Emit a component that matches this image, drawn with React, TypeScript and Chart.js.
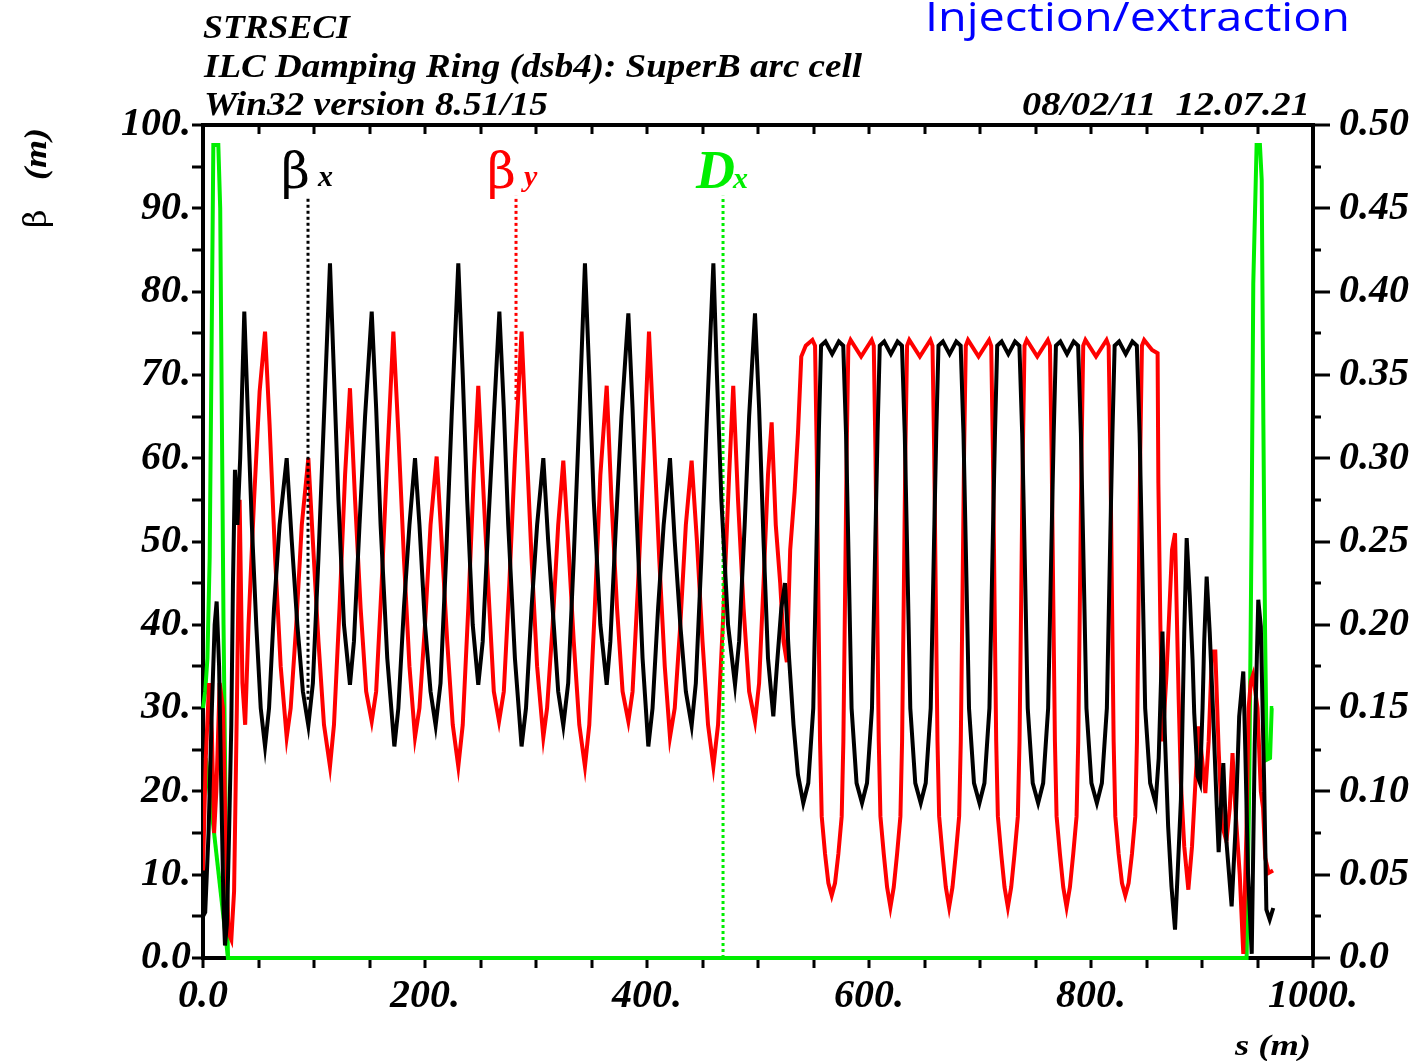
import React, { useEffect, useRef } from 'react';
import { Chart, registerables } from 'chart.js';

Chart.register(...registerables);

// ---------- data (s in m, beta in m, Dx in m) ----------
const BETA_X: [number, number][] = [
  [0, 5], [2, 5.5], [5, 15], [8, 30], [10.5, 40], [12.3, 42.8], [14.5, 35], [16.5, 20], [18.5, 6], [19.8, 1.5],
  [21.5, 4], [23.5, 15], [25.5, 28], [27, 45], [28.8, 58.6], [31, 52], [33.5, 60], [37.2, 77.6], [40.5, 65], [44, 52],
  [48, 40], [52, 30], [55.9, 25.4], [59.5, 30], [64, 42], [69, 52], [75.4, 60], [80, 50], [85, 40], [90, 32],
  [94.9, 27.9], [99, 33], [104, 48], [109, 65], [114.4, 83.4], [118, 70], [122, 55], [127, 40], [132.4, 32.8], [136, 38],
  [141, 52], [146, 65], [152, 77.6], [156, 66], [160, 52], [166, 36], [172.4, 25.4], [176, 30], [181, 42], [186, 52],
  [191, 60], [195, 52], [200, 40], [205, 32], [209.6, 27.9], [214, 33], [219, 48], [224, 65], [230, 83.4], [234, 70],
  [238, 55], [243, 40], [248, 32.8], [252, 38], [257, 52], [262, 65], [267, 77.6], [271, 66], [275, 52], [281, 36],
  [287, 25.4], [291, 30], [296, 42], [301, 52], [306.6, 60], [311, 50], [316, 40], [320, 32], [324.6, 27.9], [329, 33],
  [334, 48], [339, 65], [344.1, 83.4], [348, 70], [352, 55], [358, 40], [363.7, 32.8], [367, 38], [372, 52], [377, 65],
  [383.2, 77.4], [387, 66], [391, 52], [396, 36], [401.2, 25.4], [405, 30], [410, 42], [415, 52], [420.7, 60], [425, 50],
  [430, 40], [435, 32], [440.2, 27.9], [444, 33], [449, 48], [454, 65], [459.8, 83.4], [463, 70], [467, 55], [473, 40],
  [479.3, 32.8], [483, 38], [488, 52], [492, 65], [497.3, 77.4], [501, 66], [505, 50], [509, 36], [513.8, 29], [517, 35],
  [521, 42], [524.3, 45], [528, 36], [532, 28], [536, 22],
  [540.8, 18.6], [545.3, 21], [549.8, 30], [552.8, 50], [554.8, 63], [556.8, 73.5], [560.8, 74], [566.8, 72.5], [572.8, 74], [576.8, 73.5],
  [579.3, 63], [581.3, 50], [584.3, 30], [588.8, 21],
  [593.7, 18.6], [598.2, 21], [602.7, 30], [605.7, 50], [607.7, 63], [609.7, 73.5], [613.7, 74], [619.7, 72.5], [625.7, 74], [629.7, 73.5],
  [632.2, 63], [634.2, 50], [637.2, 30], [641.7, 21],
  [646.6, 18.6], [651.1, 21], [655.6, 30], [658.6, 50], [660.6, 63], [662.6, 73.5], [666.6, 74], [672.6, 72.5], [678.6, 74], [682.6, 73.5],
  [685.1, 63], [687.1, 50], [690.1, 30], [694.6, 21],
  [699.5, 18.6], [704, 21], [708.5, 30], [711.5, 50], [713.5, 63], [715.5, 73.5], [719.5, 74], [725.5, 72.5], [731.5, 74], [735.5, 73.5],
  [738, 63], [740, 50], [743, 30], [747.5, 21],
  [752.4, 18.6], [756.9, 21], [761.4, 30], [764.4, 50], [766.4, 63], [768.4, 73.5], [772.4, 74], [778.4, 72.5], [784.4, 74], [788.4, 73.5],
  [790.9, 63], [792.9, 50], [795.9, 30], [800.4, 21],
  [805.3, 18.6], [809.8, 21], [814.3, 30], [817.3, 50], [819.3, 63], [821.3, 73.5], [825.3, 74], [831.3, 72.5], [837.3, 74], [841.3, 73.5],
  [843.8, 63], [845.8, 50], [848.8, 30], [853.3, 21],
  [858.2, 18.6], [861, 24], [864.4, 39.2], [866.5, 27], [869.5, 15.8], [872.5, 8.6], [875.7, 3.4], [878, 10], [881, 19], [884, 39],
  [886.2, 50.4], [889, 43.4], [891.5, 35.8], [893, 29.4], [896, 21.8], [898.2, 21], [900.5, 30], [902, 38], [904.2, 45.8], [907, 39],
  [910, 29.4], [913, 19.1], [915, 12.7], [917, 18], [919.2, 23.4], [922, 14], [926.7, 6.2], [930, 15], [933.5, 29], [937.2, 34.4],
  [939, 25], [941.5, 10], [944.8, 0.5], [947.5, 25.6], [950.7, 43], [953, 39.8], [956, 21], [958, 5.8], [961, 4.6], [964.2, 6],
];

const BETA_Y: [number, number][] = [
  [0, 10.5], [2.5, 24], [5.5, 33], [8, 27], [10, 15], [12, 20], [15, 33], [18, 30], [20.5, 14], [23, 3],
  [25.5, 2.2], [28, 8], [30.5, 30], [33, 55], [35.5, 33], [38, 28], [41, 40], [46, 55], [51, 68], [55.9, 75.2],
  [60, 64], [65, 48], [70, 35], [75.4, 26.5], [79, 30], [84, 40], [89, 52], [94.9, 60], [99, 50], [104, 38],
  [109, 28], [114.4, 23], [118, 28], [123, 42], [128, 58], [132.4, 68.4], [137, 55], [142, 42], [147, 32], [152, 28.4],
  [156, 32], [161, 45], [166, 60], [171.5, 75.2], [176, 63], [181, 48], [186, 35], [191, 26.5], [195, 30], [200, 40],
  [205, 52], [210.5, 60.2], [215, 50], [220, 38], [225, 28], [230, 23], [234, 28], [239, 42], [244, 58], [248, 68.7],
  [253, 55], [258, 42], [262, 32], [266.7, 28.4], [271, 32], [276, 45], [281, 60], [287, 75.2], [291, 63], [296, 48],
  [301, 35], [306.6, 26.5], [310, 30], [315, 40], [320, 52], [324.6, 59.7], [329, 50], [334, 38], [339, 28], [344.1, 23],
  [348, 28], [353, 42], [358, 58], [363.7, 68.7], [368, 55], [373, 42], [378, 32], [383.2, 28.4], [387, 32], [392, 45],
  [397, 60], [401.8, 75.2], [406, 63], [411, 48], [416, 35], [420.7, 26.5], [425, 30], [430, 40], [435, 52], [440.2, 59.7],
  [445, 50], [450, 38], [455, 28], [459.8, 23], [464, 28], [469, 42], [474, 58], [477.7, 68.7], [482, 55], [487, 42],
  [492, 32], [497.3, 28.4], [501, 33], [505, 45], [509, 58], [512.3, 64.3], [516, 52], [520, 45], [523, 38], [526, 35.5],
  [529, 49], [533, 56], [536, 63], [539, 72.2], [543, 73.5], [549, 74.2], [551.4, 73.5],
  [552.9, 61], [554.4, 43], [555.9, 26], [557.4, 17], [560.4, 12.5], [563.4, 9], [566.4, 7.5], [569.4, 9], [572.4, 12.5], [575.4, 17],
  [576.9, 26], [578.4, 43], [579.9, 61], [581.4, 73.5], [583.4, 74.2], [592.9, 72.2], [602.4, 74.2], [604.3, 73.5],
  [605.8, 61], [607.3, 43], [608.8, 26], [610.3, 17], [613.3, 12.5], [616.3, 8.5], [619.3, 6.1], [622.3, 8.5], [625.3, 12.5], [628.3, 17],
  [629.8, 26], [631.3, 43], [632.8, 61], [634.3, 73.5], [636.3, 74.2], [645.8, 72.2], [655.3, 74.2], [657.2, 73.5],
  [658.7, 61], [660.2, 43], [661.7, 26], [663.2, 17], [666.2, 12.5], [669.2, 8.5], [672.2, 6.1], [675.2, 8.5], [678.2, 12.5], [681.2, 17],
  [682.7, 26], [684.2, 43], [685.7, 61], [687.2, 73.5], [689.2, 74.2], [698.7, 72.2], [708.2, 74.2], [710.1, 73.5],
  [711.6, 61], [713.1, 43], [714.6, 26], [716.1, 17], [719.1, 12.5], [722.1, 8.5], [725.1, 6.1], [728.1, 8.5], [731.1, 12.5], [734.1, 17],
  [735.6, 26], [737.1, 43], [738.6, 61], [740.1, 73.5], [742.1, 74.2], [751.6, 72.2], [761.1, 74.2], [763, 73.5],
  [764.5, 61], [766, 43], [767.5, 26], [769, 17], [772, 12.5], [775, 8.5], [778, 6.1], [781, 8.5], [784, 12.5], [787, 17],
  [788.5, 26], [790, 43], [791.5, 61], [793, 73.5], [795, 74.2], [804.5, 72.2], [814, 74.2], [815.9, 73.5],
  [817.4, 61], [818.9, 43], [820.4, 26], [821.9, 17], [824.9, 12.5], [827.9, 9], [830.9, 7.5], [833.9, 9], [836.9, 12.5], [839.9, 17],
  [841.4, 26], [842.9, 43], [844.4, 61], [845.9, 73.5], [847.9, 74.2], [855, 73], [860, 72.6],
  [860.7, 57], [862.5, 40], [864.5, 26], [868, 34], [871, 43], [873, 49], [875.7, 51], [879, 31], [881, 21], [884, 13.4],
  [887.7, 8.2], [891, 13.4], [894.2, 21.4], [897, 27.8], [900, 24], [903, 19.8], [906, 26], [909, 36.8], [912, 36.8], [915, 25],
  [918, 16], [922, 14], [925, 18], [927.5, 24.6], [930, 18], [934, 10], [937.2, 0.5], [940, 15], [942, 30], [944, 33.2],
  [946, 34], [950, 30], [953, 20], [955, 18], [957, 12], [960, 10.2], [964, 10.5],
];

const DISP_X: [number, number][] = [
  [0, 0.15], [2, 0.16], [4, 0.18], [6, 0.24], [7.8, 0.37], [9.3, 0.488], [13.8, 0.488], [15.5, 0.45], [16.8, 0.34], [18.5, 0.2],
  [20.5, 0.08], [22.5, 0], [100, 0], [300, 0], [500, 0], [700, 0], [900, 0], [940.2, 0], [942.5, 0.1], [944.7, 0.259],
  [946.2, 0.405], [949.2, 0.488], [952.2, 0.488], [953.8, 0.467], [955.3, 0.32], [956.8, 0.197], [958.3, 0.119], [961.3, 0.12], [962.8, 0.15], [964.2, 0.15],
];
const DISP_X_LINK: [number, number][] = [[2.5, 0.12], [22.5, 0]];

// label markers: s position, lower end of dotted line (beta units)
const MARK_NAMES = ['β', 'β', 'D'];
const MARK_SUBS = ['x', 'y', 'x'];
const MARK_S = [94.6, 282, 468.5];
const MARK_LOW = [31, 67, 0];
const MARK_HIGH = 91.5;

const TITLE_LINES = ['STRSECI', 'ILC Damping Ring (dsb4): SuperB arc cell', 'Win32 version 8.51/15'];
const DATE_TEXT = '08/02/11  12.07.21';
const NOTE_TEXT = 'Injection/extraction';

const COLORS = ['#000000', '#ff0000', '#00ee00'];

const serif = '"Liberation Serif", "DejaVu Serif", serif';

function fitText(ctx: CanvasRenderingContext2D, text: string, x: number, y: number, width: number, align: 'left' | 'right') {
  const w = ctx.measureText(text).width;
  const sx = width / w;
  ctx.save();
  ctx.translate(x, y);
  ctx.scale(sx, 1);
  ctx.textAlign = 'left';
  ctx.fillText(text, align === 'right' ? -w : 0, 0);
  ctx.restore();
}

const decorPlugin = {
  id: 'decor',
  beforeDatasetsDraw(chart: any) {
    const { ctx, chartArea, scales } = chart;
    const { left, right, top, bottom } = chartArea;
    ctx.save();
    ctx.strokeStyle = '#000';
    ctx.lineWidth = 3;
    ctx.beginPath();
    for (let v = 0; v <= 100; v += 5) {
      const y = Math.round(scales.y.getPixelForValue(v));
      ctx.moveTo(left - 11, y);
      ctx.lineTo(left, y);
    }
    for (let i = 0; i <= 20; i++) {
      const y = Math.round(scales.y2.getPixelForValue(i * 0.025));
      ctx.moveTo(right, y);
      ctx.lineTo(right + (i % 2 === 0 ? 17 : 8), y);
    }
    for (let s = 0; s <= 1000; s += 50) {
      const x = Math.round(scales.x.getPixelForValue(s));
      ctx.moveTo(x, top);
      ctx.lineTo(x, top + 9);
      ctx.moveTo(x, bottom);
      ctx.lineTo(x, bottom + 10);
    }
    ctx.stroke();
    ctx.lineWidth = 4;
    ctx.strokeRect(left, top, right - left, bottom - top);
    ctx.restore();
  },
  afterDraw(chart: any) {
    const { ctx, scales } = chart;
    ctx.save();
    ctx.fillStyle = '#000';
    ctx.textBaseline = 'alphabetic';
    ctx.font = `italic bold 34px ${serif}`;
    fitText(ctx, TITLE_LINES[0], 203, 38, 147, 'left');
    fitText(ctx, TITLE_LINES[1], 204, 77, 658, 'left');
    fitText(ctx, TITLE_LINES[2], 204, 115, 344, 'left');
    fitText(ctx, DATE_TEXT, 1310, 115, 288, 'right');

    ctx.fillStyle = '#0000ff';
    ctx.font = '40px "Open Sans", "Noto Sans", sans-serif';
    fitText(ctx, NOTE_TEXT, 925, 31, 425, 'left');

    // y axis title
    ctx.fillStyle = '#000';
    ctx.save();
    ctx.translate(46, 228);
    ctx.rotate(-Math.PI / 2);
    ctx.font = `32px "DejaVu Serif", serif`;
    ctx.fillText('β', 0, 0);
    ctx.font = `italic bold 32px ${serif}`;
    fitText(ctx, '(m)', 48, 0, 52, 'left');
    ctx.restore();

    // x axis title
    ctx.font = `italic bold 30px ${serif}`;
    fitText(ctx, 's (m)', 1311, 1055, 76, 'right');

    // curve labels
    const offs = [2, 0, 6];
    for (let i = 0; i < MARK_S.length; i++) {
      const x = scales.x.getPixelForValue(MARK_S[i]) + offs[i];
      const yb = scales.y.getPixelForValue(MARK_HIGH) - 8;
      ctx.fillStyle = COLORS[i];
      if (MARK_NAMES[i] === 'β') {
        ctx.font = `50px "DejaVu Serif", serif`;
        const w = ctx.measureText('β').width;
        ctx.fillText('β', x - w, yb);
        ctx.font = `italic bold 30px ${serif}`;
        ctx.fillText(MARK_SUBS[i], x + 8, yb - 2);
      } else {
        ctx.font = `italic bold 54px ${serif}`;
        const w = ctx.measureText('D').width;
        ctx.fillText('D', x - w + 6, yb);
        ctx.font = `italic bold 30px ${serif}`;
        ctx.fillText(MARK_SUBS[i], x + 4, yb);
      }
    }
    ctx.restore();
  },
};

export default function App() {
  const ref = useRef<HTMLCanvasElement | null>(null);
  useEffect(() => {
    document.body.style.margin = '0';
    const canvas = ref.current;
    if (!canvas) return;
    const toXY = (arr: [number, number][]) => arr.map(([x, y]) => ({ x, y }));
    const markerSets = MARK_S.map((s, i) => ({
      data: [{ x: s, y: MARK_LOW[i] }, { x: s, y: MARK_HIGH }],
      borderColor: COLORS[i],
      borderWidth: 3,
      borderDash: [3, 3],
      pointRadius: 0,
      yAxisID: 'y',
    }));
    const chart = new Chart(canvas, {
      type: 'line',
      data: {
        datasets: [
          { data: toXY(BETA_X), borderColor: '#000000', borderWidth: 4, pointRadius: 0, yAxisID: 'y' },
          ...markerSets,
          { data: toXY(BETA_Y), borderColor: '#ff0000', borderWidth: 4, pointRadius: 0, yAxisID: 'y' },
          { data: toXY(DISP_X), borderColor: '#00ee00', borderWidth: 4, pointRadius: 0, yAxisID: 'y2', clip: false },
          { data: toXY(DISP_X_LINK), borderColor: '#00ee00', borderWidth: 4, pointRadius: 0, yAxisID: 'y2' },
        ] as any,
      },
      options: {
        responsive: false,
        animation: false,
        devicePixelRatio: 1,
        layout: { padding: { top: 125, left: 0, right: 0, bottom: 0 } },
        plugins: { legend: { display: false }, tooltip: { enabled: false } },
        elements: { line: { tension: 0 } },
        scales: {
          x: {
            type: 'linear',
            min: 0,
            max: 1000,
            position: 'bottom',
            grid: { display: false, drawTicks: false },
            border: { display: false },
            afterFit: (s: any) => { s.height = 103; },
            ticks: {
              stepSize: 200,
              autoSkip: false,
              maxRotation: 0,
              padding: 15,
              color: '#000',
              font: { family: serif, size: 40, weight: 'bold', style: 'italic' },
              callback: (v: any) => (Number(v) === 0 ? '0.0' : `${v}.`),
            },
          },
          y: {
            type: 'linear',
            min: 0,
            max: 100,
            position: 'left',
            grid: { display: false, drawTicks: false },
            border: { display: false },
            afterFit: (s: any) => { s.width = 203; },
            ticks: {
              stepSize: 10,
              padding: 12,
              color: '#000',
              font: { family: serif, size: 40, weight: 'bold', style: 'italic' },
              callback: (v: any) => (Number(v) === 0 ? '0.0' : `${v}.`),
            },
          },
          y2: {
            type: 'linear',
            min: 0,
            max: 0.5,
            position: 'right',
            grid: { display: false, drawTicks: false },
            border: { display: false },
            afterFit: (s: any) => { s.width = 101; },
            ticks: {
              stepSize: 0.05,
              padding: 26,
              color: '#000',
              font: { family: serif, size: 40, weight: 'bold', style: 'italic' },
              callback: (v: any) => (Math.abs(Number(v)) < 1e-9 ? '0.0' : Number(v).toFixed(2)),
            },
          },
        },
      } as any,
      plugins: [decorPlugin],
    });
    return () => chart.destroy();
  }, []);
  return (
    <div style={{ position: 'absolute', left: 0, top: 0 }}>
      <canvas ref={ref} width={1414} height={1061} style={{ display: 'block' }} />
    </div>
  );
}
